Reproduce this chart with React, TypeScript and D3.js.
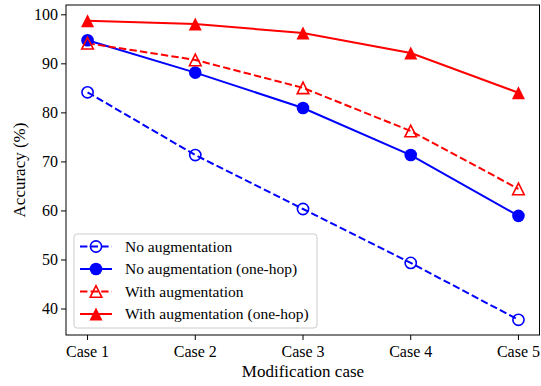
import React from 'react'
import * as d3 from 'd3'

// x categories
const cases = ['Case 1', 'Case 2', 'Case 3', 'Case 4', 'Case 5']
const yTicks = [40, 50, 60, 70, 80, 90, 100]

// accuracy (%) per case
const noAug = [84.2, 71.4, 60.4, 49.4, 37.8]
const noAugOneHop = [94.8, 88.2, 81.0, 71.4, 59.0]
const withAug = [94.2, 90.8, 85.1, 76.3, 64.5]
const withAugOneHop = [98.8, 98.1, 96.3, 92.2, 84.1]

interface Series {
  label: string
  values: number[]
  color: string
  dashed: boolean
  marker: 'circle' | 'triangle'
  filled: boolean
}

const series: Series[] = [
  { label: 'No augmentation', values: noAug, color: '#0000ff', dashed: true, marker: 'circle', filled: false },
  { label: 'No augmentation (one-hop)', values: noAugOneHop, color: '#0000ff', dashed: false, marker: 'circle', filled: true },
  { label: 'With augmentation', values: withAug, color: '#ff0000', dashed: true, marker: 'triangle', filled: false },
  { label: 'With augmentation (one-hop)', values: withAugOneHop, color: '#ff0000', dashed: false, marker: 'triangle', filled: true },
]

const W = 541
const H = 386
const margin = { top: 5, right: 1, bottom: 51, left: 66 }
const font = '"Liberation Serif", "Times New Roman", serif'

const Marker: React.FC<{ s: Series; cx: number; cy: number }> = ({ s, cx, cy }) => {
  const fill = s.filled ? s.color : 'none'
  const sw = s.filled ? 0 : 1.6
  if (s.marker === 'circle') {
    return <circle cx={cx} cy={cy} r={s.filled ? 6.3 : 5.6} fill={fill} stroke={s.color} strokeWidth={sw} />
  }
  const r = s.filled ? 6.5 : 5.8
  const pts = `${cx},${cy - r} ${cx - r},${cy + r} ${cx + r},${cy + r}`
  return <polygon points={pts} fill={fill} stroke={s.color} strokeWidth={sw} strokeLinejoin="miter" />
}

const App: React.FC = () => {
  const innerW = W - margin.left - margin.right
  const innerH = H - margin.top - margin.bottom

  const x = d3.scalePoint<string>()
    .domain(cases)
    .range([margin.left, margin.left + innerW])
    .padding(0.2)

  const y = d3.scaleLinear()
    .domain([34.7, 102])
    .range([margin.top + innerH, margin.top])

  const line = d3.line<number>()
    .x((_, i) => x(cases[i]) as number)
    .y(d => y(d))

  const bottom = margin.top + innerH
  const legX = 74
  const legY = 234
  const rowH = 22.5

  return (
    <svg width={W} height={H} style={{ display: 'block', fontFamily: font }}>
      <style>{`body{margin:0}`}</style>
      <rect width={W} height={H} fill="#fff" />

      {/* lines */}
      {series.map(s => (
        <path key={s.label} d={line(s.values) || ''} fill="none" stroke={s.color} strokeWidth={2}
          strokeDasharray={s.dashed ? '7.4,3.2' : undefined} />
      ))}
      {series.map(s => s.values.map((v, i) => (
        <Marker key={s.label + i} s={s} cx={x(cases[i]) as number} cy={y(v)} />
      )))}

      {/* frame */}
      <rect x={margin.left} y={margin.top} width={innerW - 0.5} height={innerH} fill="none" stroke="#000" strokeWidth={1} />

      {/* y axis */}
      {yTicks.map(t => (
        <g key={t} transform={`translate(${margin.left},${y(t)})`}>
          <line x1={-5} x2={0} stroke="#000" />
          <text x={-8} dy="0.34em" textAnchor="end" fontSize={16}>{t}</text>
        </g>
      ))}
      {/* x axis */}
      {cases.map(c => (
        <g key={c} transform={`translate(${x(c)},${bottom})`}>
          <line y1={0} y2={5} stroke="#000" />
          <text y={21.5} textAnchor="middle" fontSize={16}>{c}</text>
        </g>
      ))}

      <text x={margin.left + innerW / 2} y={377} textAnchor="middle" fontSize={17}>Modification case</text>
      <text transform={`translate(25,${margin.top + innerH / 2}) rotate(-90)`} textAnchor="middle" fontSize={17}>Accuracy (%)</text>

      {/* legend */}
      <rect x={legX} y={legY} width={243} height={94} rx={3} fill="#fff" fillOpacity={0.8} stroke="#cccccc" strokeWidth={1} />
      {series.map((s, i) => {
        const cy = legY + 12.5 + i * rowH
        return (
          <g key={s.label}>
            <line x1={80} x2={112} y1={cy} y2={cy} stroke={s.color} strokeWidth={2}
              strokeDasharray={s.dashed ? '7.4,3.2' : undefined} />
            <Marker s={s} cx={96} cy={cy} />
            <text x={125} y={cy} dy="0.34em" fontSize={15.5}>{s.label}</text>
          </g>
        )
      })}
    </svg>
  )
}

export default App
